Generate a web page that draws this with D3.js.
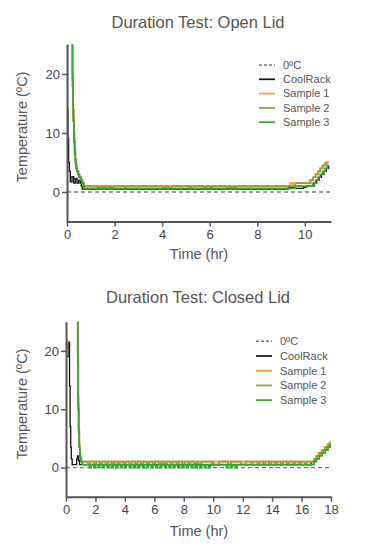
<!DOCTYPE html>
<html>
<head>
<meta charset="utf-8">
<script src="https://cdn.jsdelivr.net/npm/d3@7"></script>
<style>
  body { margin: 0; background: #fff; }
  svg { font-family: "Liberation Sans", Arial, sans-serif; }
</style>
</head>
<body>
<svg id="chart" width="373" height="552"></svg>
<script>
// series names, colours and ticks
const seriesNames = ["CoolRack", "Sample 1", "Sample 2", "Sample 3"];
const seriesColors = ["#111111", "#f7962b", "#9d9b2f", "#33a637"];
const refLabel = "0ºC";
const yTicks = [0, 10, 20];
const openXTicks = [0, 2, 4, 6, 8, 10];
const closedXTicks = [0, 2, 4, 6, 8, 10, 12, 14, 16, 18];

// Open lid readings: [time (hr), temperature (ºC)]
const openCoolRack = [[0,30],[0.02,14],[0.04,9],[0.07,5],[0.1,3.5],[0.14,1.7],[0.21,2.6],[0.28,1.5],[0.35,2.3],[0.42,1.5],
  [0.49,2],[0.56,1.5],[0.6,1],[0.64,0.5],[9.3,0.8],[9.6,0.6],[9.95,0.8],[10.05,1],[10.35,1.5],[10.5,2],[10.6,2.5],
  [10.7,3],[10.8,3.5],[10.9,4],[11,4.5]];
const openSample1 = [[0.2,30],[0.23,20],[0.26,14],[0.29,10],[0.32,7.5],[0.35,5.5],[0.39,4.5],[0.43,3.5],[0.48,3],[0.53,2.5],
  [0.6,2],[0.65,1.5],[0.72,1],[9.4,1.5],[9.5,1],[9.6,1.5],[10.2,2],[10.35,2.5],[10.45,3],[10.55,3.5],[10.65,4],
  [10.75,4.5],[10.85,5],[11,5]];
const openSample2 = [[0.2,30],[0.23,19],[0.26,13],[0.29,9],[0.32,7],[0.35,5.5],[0.39,4],[0.43,3.5],[0.48,3],[0.53,2.5],
  [0.6,2],[0.66,1.5],[0.72,1],[1.3,0.6],[1.4,1],[1.5,0.6],[1.6,1],[1.7,0.6],[1.8,1],[1.85,0.6],[1.95,1],[2.45,0.6],
  [2.5,1],[4.05,0.6],[4.15,1],[4.25,0.6],[4.4,1],[5.15,0.6],[5.2,1],[5.75,0.6],[5.85,1],[6.0,0.6],[6.1,1],[6.7,0.6],
  [6.8,1],[6.9,0.6],[7.0,1],[7.05,0.6],[7.1,1],[9.6,1.5],[10.25,2],[10.35,2.5],[10.45,3],[10.55,3.5],[10.65,4],
  [10.75,4.5],[10.9,5],[11,5]];
const openSample3 = [[0.2,30],[0.23,18],[0.26,12],[0.29,8.5],[0.32,6.5],[0.35,5],[0.38,4],[0.42,3.5],[0.46,3],[0.5,2.5],
  [0.56,2],[0.62,1.5],[0.68,1],[0.72,0.6],[9.6,1],[10.4,1.5],[10.45,2],[10.55,2.5],[10.65,3],[10.75,3.5],[10.85,4],
  [10.95,4.5],[11,4.5]];

// Closed lid readings
const closedCoolRack = [[0,22],[0.05,19],[0.15,19],[0.2,21.5],[0.24,14],[0.28,7],[0.32,3.5],[0.36,1.5],[0.42,0.5],
  [0.72,1.5],[0.78,2],[0.85,1.2],[0.92,0.5],[16.65,1],[16.85,1.5],[17.05,2],[17.25,2.5],[17.45,3],[17.65,3.5],
  [17.85,4],[18,4]];
const closedSample1 = [[0.77,30],[0.8,20],[0.83,12],[0.86,7],[0.9,4],[0.94,2.5],[0.98,1.5],[1.05,1],[3.2,0.5],[3.3,1],
  [6.6,0.5],[6.7,1],[9.9,0.5],[10,1],[12.6,0.5],[12.7,1],[16.85,1.5],[17.0,2],[17.15,2.5],[17.35,3],[17.55,3.5],
  [17.75,4],[17.9,4.3],[18,4.3]];
const closedSample2 = [[0.77,30],[0.8,19],[0.83,11],[0.86,6.5],[0.9,3.5],[0.94,2],[0.98,1.5],[1.05,1],
  [1.5,0.5],[1.65,1],[1.9,0.5],[2.05,1],[2.3,0.5],[2.45,1],[2.7,0.5],[2.85,1],[3.1,0.5],[3.25,1],[3.5,0.5],[3.65,1],
  [3.9,0.5],[4.05,1],[4.3,0.5],[4.45,1],[4.7,0.5],[4.85,1],[5.1,0.5],[5.25,1],[5.5,0.5],[5.65,1],[5.9,0.5],[6.05,1],
  [6.3,0.5],[6.45,1],[6.7,0.5],[6.85,1],[7.1,0.5],[7.25,1],[7.5,0.5],[7.65,1],[7.9,0.5],[8.05,1],[8.3,0.5],[8.45,1],
  [8.7,0.5],[8.85,1],[9.0,0.5],[9.2,1],[10.0,0.5],[10.4,1],[11.0,0.5],[11.2,1],[11.9,0.5],[12.2,1],[13.0,0.5],
  [13.15,1],[13.4,0.5],[13.55,1],[13.8,0.5],[13.95,1],[14.2,0.5],[14.35,1],[14.6,0.5],[14.75,1],[15.0,0.5],[15.15,1],
  [15.4,0.5],[15.55,1],[15.8,0.5],[15.95,1],[16.2,0.5],[16.35,1],[16.9,1.5],[17.05,2],[17.25,2.5],[17.45,3],
  [17.65,3.5],[17.85,4],[18,4]];
const closedSample3 = [[0.77,30],[0.8,18],[0.83,10],[0.86,6],[0.9,3.5],[0.94,2],[0.98,1.5],[1.02,1],[1.1,0.5],
  [1.6,0],[1.7,0.5],[1.9,0],[2.0,0.5],[2.2,0],[2.3,0.5],[2.5,0],[2.6,0.5],[2.8,0],[2.9,0.5],[3.1,0],[3.2,0.5],
  [3.4,0],[3.5,0.5],[3.7,0],[3.8,0.5],[4.0,0],[4.1,0.5],[4.3,0],[4.4,0.5],[4.6,0],[4.7,0.5],[4.9,0],[5.0,0.5],
  [5.2,0],[5.3,0.5],[5.5,0],[5.6,0.5],[5.8,0],[5.9,0.5],[6.1,0],[6.2,0.5],[6.4,0],[6.5,0.5],[6.7,0],[6.8,0.5],
  [7.0,0],[7.1,0.5],[7.3,0],[7.4,0.5],[7.6,0],[7.7,0.5],[7.9,0],[8.0,0.5],[8.2,0],[8.3,0.5],[8.5,0],[8.6,0.5],
  [8.8,0],[8.9,0.5],[9.1,0],[9.2,0.5],[9.4,0],[9.5,0.5],[9.7,0],[9.8,0.5],[10.9,0],[11.0,0.5],[11.2,0],[11.3,0.5],
  [11.5,0],[11.6,0.5],[16.85,1],[17.0,1.5],[17.2,2],[17.4,2.5],[17.6,3],[17.8,3.5],[17.95,3.8],[18,3.8]];

const svg = d3.select("#chart");

function drawPanel(cfg) {
  const x = d3.scaleLinear().domain([0, cfg.xMax]).range([cfg.left, cfg.right]);
  const y = d3.scaleLinear().domain([-5, 25]).range([cfg.bottom, cfg.top]);
  const g = svg.append("g");

  // title
  g.append("text")
    .attr("x", 198).attr("y", cfg.titleY)
    .attr("text-anchor", "middle")
    .attr("font-size", 16.5)
    .attr("fill", "#555")
    .text(cfg.title);

  // clip so the lines starting above 25 are cut at the top
  g.append("clipPath").attr("id", cfg.id)
    .append("rect")
    .attr("x", cfg.left).attr("y", cfg.top)
    .attr("width", cfg.right - cfg.left).attr("height", cfg.bottom - cfg.top);

  const plot = g.append("g").attr("clip-path", `url(#${cfg.id})`);

  // 0ºC reference line
  plot.append("line")
    .attr("x1", x(0)).attr("x2", x(cfg.xMax))
    .attr("y1", y(0)).attr("y2", y(0))
    .attr("stroke", "#777").attr("stroke-width", 1.3)
    .attr("stroke-dasharray", "4,3");

  const line = d3.line()
    .x(d => x(d[0]))
    .y(d => y(d[1]))
    .curve(d3.curveStepAfter);

  cfg.series.forEach((s, i) => {
    plot.append("path")
      .attr("d", line(s))
      .attr("fill", "none")
      .attr("stroke", seriesColors[i])
      .attr("stroke-width", i === 0 ? 1.3 : 1.7);
  });

  // axes
  const yAxis = g.append("g")
    .attr("transform", `translate(${cfg.left},0)`)
    .call(d3.axisLeft(y).tickValues(yTicks).tickSize(5).tickSizeOuter(0).tickPadding(2));
  const xAxis = g.append("g")
    .attr("transform", `translate(0,${cfg.bottom})`)
    .call(d3.axisBottom(x).tickValues(cfg.xTicks).tickSize(5).tickSizeOuter(0).tickPadding(3));

  [xAxis, yAxis].forEach(a => {
    a.select(".domain").attr("stroke", "#555").attr("stroke-width", 2);
    a.selectAll(".tick line").attr("stroke", "#555").attr("stroke-width", 1.5);
    a.selectAll(".tick text").attr("fill", "#444").attr("font-size", 13)
      .attr("font-family", "Liberation Sans, Arial, sans-serif");
  });

  // axis titles
  g.append("text")
    .attr("x", 199).attr("y", cfg.xTitleY)
    .attr("text-anchor", "middle")
    .attr("font-size", 14.5).attr("fill", "#555")
    .text("Time (hr)");

  g.append("text")
    .attr("transform", `translate(27,${cfg.yTitleY}) rotate(-90)`)
    .attr("text-anchor", "middle")
    .attr("font-size", 14.5).attr("fill", "#555")
    .text("Temperature (ºC)");

  // legend
  const labels = [refLabel].concat(seriesNames);
  const legend = g.append("g").attr("transform", `translate(${cfg.legendX},${cfg.legendY})`);
  labels.forEach((lab, i) => {
    const row = legend.append("g").attr("transform", `translate(0,${i * cfg.legendStep})`);
    row.append("line")
      .attr("x1", 0).attr("x2", 16)
      .attr("stroke", i === 0 ? "#777" : seriesColors[i - 1])
      .attr("stroke-width", i === 0 ? 1.4 : 1.7)
      .attr("stroke-dasharray", i === 0 ? "3,2" : null);
    row.append("text")
      .attr("x", 24).attr("dy", "0.35em")
      .attr("font-size", 11).attr("fill", "#555")
      .text(lab);
  });
}

drawPanel({
  id: "clipOpen", title: "Duration Test: Open Lid",
  xMax: 11.1, xTicks: openXTicks,
  left: 67, right: 331, top: 44.5, bottom: 221.5,
  titleY: 27.5, xTitleY: 259, yTitleY: 127,
  legendX: 259, legendY: 65, legendStep: 14.3,
  series: [openCoolRack, openSample1, openSample2, openSample3]
});

drawPanel({
  id: "clipClosed", title: "Duration Test: Closed Lid",
  xMax: 18, xTicks: closedXTicks,
  left: 66, right: 331, top: 321.7, bottom: 496.7,
  titleY: 303, xTitleY: 535.5, yTitleY: 404,
  legendX: 256, legendY: 341.3, legendStep: 14.7,
  series: [closedCoolRack, closedSample1, closedSample2, closedSample3]
});
</script>
</body>
</html>
